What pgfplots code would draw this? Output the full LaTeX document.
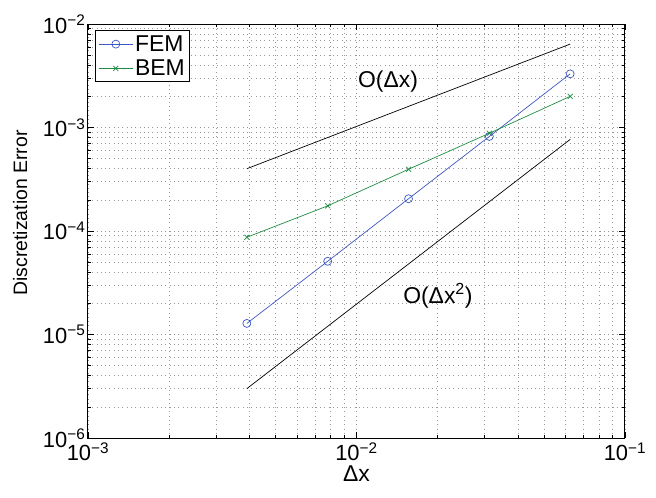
\documentclass[border=0pt]{standalone}
\usepackage{fontspec}
\setmainfont{Liberation Sans}
\usepackage{pgfplots}
\pgfplotsset{compat=1.18}
\usetikzlibrary{calc}
\definecolor{femblue}{RGB}{60,88,196}
\definecolor{bemgreen}{RGB}{28,140,66}
\begin{document}
\begin{tikzpicture}
\begin{axis}[
  name=ax,
  xmode=log, ymode=log,
  scale only axis, width=537bp, height=414bp,
  xmin=1e-3, xmax=1e-1, ymin=1e-6, ymax=1e-2,
  xtick={1e-3,1e-2,1e-1},
  xticklabels={10\textsuperscript{−3},10\textsuperscript{−2},10\textsuperscript{−1}},
  ytick={1e-6,1e-5,1e-4,1e-3,1e-2},
  yticklabels={10\textsuperscript{−6},10\textsuperscript{−5},10\textsuperscript{−4},10\textsuperscript{−3},10\textsuperscript{−2}},
  minor xtick={2e-3,3e-3,4e-3,5e-3,6e-3,7e-3,8e-3,9e-3,2e-2,3e-2,4e-2,5e-2,6e-2,7e-2,8e-2,9e-2},
  minor ytick={2e-6,3e-6,4e-6,5e-6,6e-6,7e-6,8e-6,9e-6,2e-5,3e-5,4e-5,5e-5,6e-5,7e-5,8e-5,9e-5,2e-4,3e-4,4e-4,5e-4,6e-4,7e-4,8e-4,9e-4,2e-3,3e-3,4e-3,5e-3,6e-3,7e-3,8e-3,9e-3},
  tick label style={font=\fontsize{22}{26}\selectfont, black, inner sep=1.5bp},
  xticklabel style={yshift=-3bp},
  yticklabel style={xshift=-1bp},
  grid=both,
  major grid style={gray!85, line width=0.6bp, dash pattern=on 0.8bp off 3.5bp},
  minor grid style={gray!80, line width=0.55bp, dash pattern=on 0.8bp off 3.5bp},
  tick align=inside,
  major tick length=6bp, minor tick length=3.5bp,
  every tick/.style={black, line width=0.6bp},
  axis line style={black, line width=1bp},
  xlabel={Δx},
  ylabel={Discretization Error},
  xlabel style={font=\fontsize{23}{26}\selectfont, inner sep=0pt, yshift=-3bp},
  ylabel style={font=\fontsize{19.5}{23}\selectfont, inner sep=1bp, yshift=13bp, xshift=18bp},
  legend style={at={(rel axis cs:0,1)}, anchor=north west, xshift=7bp, yshift=-6bp,
    draw=black, line width=1bp, font=\fontsize{23}{26}\selectfont,
    inner xsep=3bp, inner ysep=3bp, row sep=3bp},
  legend cell align=left,
  legend image code/.code={\draw[mark repeat=2,mark phase=2,#1] plot coordinates {(0bp,0bp)(17bp,0bp)(34bp,0bp)};},
]
\addplot[femblue, line width=0.7bp, mark=o, mark size=4bp, mark options={line width=0.7bp}]
  coordinates {(0.00390625,1.28e-5)(0.0078125,5.1e-5)(0.015625,2.05e-4)(0.03125,8.2e-4)(0.0625,3.3e-3)};
\addlegendentry{FEM}
\addplot[bemgreen, line width=0.7bp, mark=x, mark size=3.5bp, mark options={line width=0.7bp}]
  coordinates {(0.00390625,8.7e-5)(0.0078125,1.75e-4)(0.015625,3.95e-4)(0.03125,8.8e-4)(0.0625,2.0e-3)};
\addlegendentry{BEM}
\addplot[black, line width=0.7bp, forget plot] coordinates {(0.00390625,4.0e-4)(0.0625,6.4e-3)};
\addplot[black, line width=0.7bp, forget plot] coordinates {(0.00390625,3.0e-6)(0.0625,7.68e-4)};
\node[anchor=base, font=\fontsize{23}{26}\selectfont] at (axis cs:0.0131,2.41e-3) {O(Δx)};
\node[anchor=base, font=\fontsize{23}{26}\selectfont] at (axis cs:0.0201,2.01e-5) {O(Δx\textsuperscript{2})};
\end{axis}
\pgfresetboundingbox
\path[use as bounding box] ($(ax.south west)+(-88bp,-59bp)$) rectangle ($(ax.north east)+(31bp,24bp)$);
\end{tikzpicture}
\end{document}
